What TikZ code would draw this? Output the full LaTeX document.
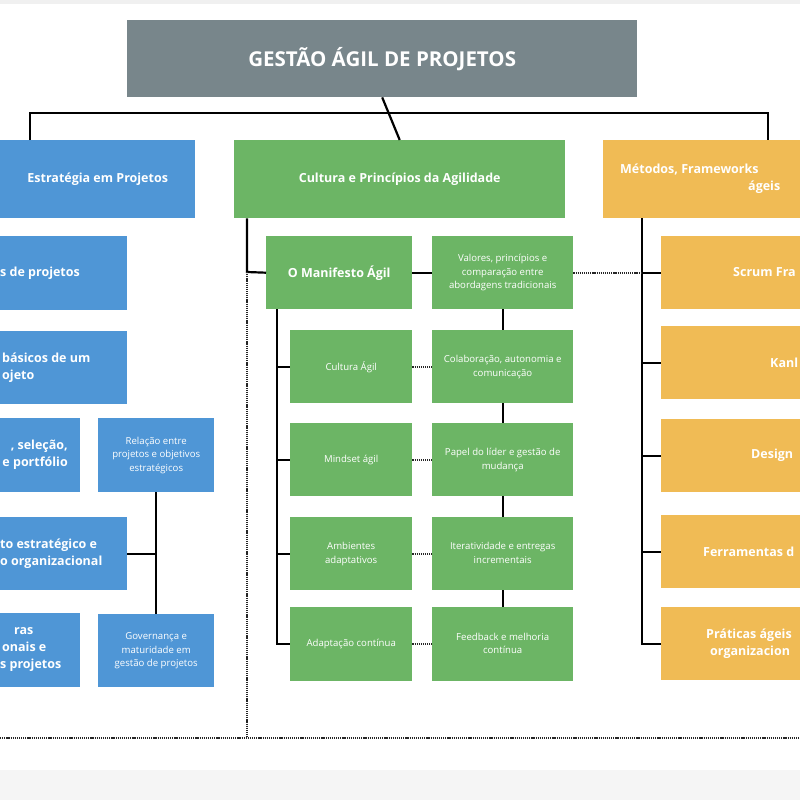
\documentclass[tikz,border=0pt]{standalone}
\usepackage{fontspec}
\setmainfont{Open Sans}
\newcommand{\smf}{\fontsize{9.6}{13.5}\selectfont}
\begin{document}
\definecolor{cgray}{HTML}{78868B}
\definecolor{cblue}{HTML}{4F96D6}
\definecolor{cgreen}{HTML}{6CB565}
\definecolor{corange}{HTML}{F0BB55}
\begin{tikzpicture}[x=1pt,y=-1pt,
  bx/.style={draw=none,anchor=north west,inner sep=0pt,text=white,font=\fontsize{12.5}{15}\selectfont\bfseries},
  ln/.style={line width=2.2pt,black},
  dt/.style={line width=1.6pt,black!85,dash pattern=on 1.2pt off 0.9pt}]
\useasboundingbox (0,0) rectangle (800,800);
\clip (0,0) rectangle (800,800);
\fill[black!6] (0,0) rectangle (800,4);
\fill[black!4] (0,770) rectangle (800,800);
\newcommand{\bx}[7]{\node[bx,fill=#6,minimum width=#4pt,minimum height=#5pt] (#1) at (#2,#3) {};
  \node[text=white,inner sep=0pt] at (#1.center) {#7};}
\newcommand{\lbx}[8]{\node[bx,fill=#6,minimum width=#4pt,minimum height=#5pt] (#1) at (#2,#3) {};
  \node[text=white,inner sep=0pt,anchor=west,align=left,font=\fontsize{12.5}{17}\selectfont\bfseries] at (#8,{#3+#5/2}) {#7};}
% title
\bx{T}{127}{20}{510}{77}{cgray}{\fontsize{20.5}{24}\selectfont\bfseries GESTÃO ÁGIL DE PROJETOS}
% headers
\bx{HB}{0}{140}{195}{78}{cblue}{\fontsize{12.5}{15}\selectfont\bfseries Estratégia em Projetos}
\bx{HG}{234}{140}{331}{78}{cgreen}{\fontsize{12.5}{15}\selectfont\bfseries Cultura e Princípios da Agilidade}
\lbx{HO}{603}{140}{260}{78}{corange}{Métodos, Frameworks\\\hspace*{128pt}ágeis}{620}
% top bus
\coordinate (bl) at (30,113); \coordinate (br) at (768,113);
\draw[ln] (T.south) -- (HG.north);
\draw[ln] (HB.north -| bl) -- (bl) -- (br) -- (HO.north -| br);
% blue column
\lbx{B1}{0}{236}{127}{74}{cblue}{s de projetos}{0}
\lbx{B2}{0}{331}{127}{73}{cblue}{básicos de um\\ojeto}{2}
\node[bx,fill=cblue,minimum width=80pt,minimum height=74pt] (B3) at (0,418) {};
\node[text=white,inner sep=0pt,align=right,anchor=east,font=\fontsize{12.5}{17}\selectfont\bfseries] at (68,455) {, seleção,\\e portfólio};
\lbx{B4}{0}{517}{127}{73}{cblue}{to estratégico e\\o organizacional}{0}
\node[bx,fill=cblue,minimum width=80pt,minimum height=74pt] (B5) at (0,613) {};
\node[text=white,inner sep=0pt,align=left,anchor=west,font=\fontsize{12.5}{17}\selectfont\bfseries] at (0,650) {\hspace*{14pt}ras\\\hspace*{2pt}onais e\\s projetos};
\bx{B6}{98}{418}{116}{74}{cblue}{\smf\begin{tabular}{@{}c@{}}Relação entre\\projetos e objetivos\\estratégicos\end{tabular}}
\bx{B7}{98}{614}{116}{73}{cblue}{\smf\begin{tabular}{@{}c@{}}Governança e\\maturidade em\\gestão de projetos\end{tabular}}
\draw[ln] (B6.south) -- (B7.north);
\draw[ln] (B4.east) -- (B4.east -| B6.south);
% green column
\bx{M}{266}{236}{146}{73}{cgreen}{\fontsize{12.5}{15}\selectfont\bfseries O Manifesto Ágil}
\bx{V}{432}{236}{141}{73}{cgreen}{\smf\begin{tabular}{@{}c@{}}Valores, princípios e\\comparação entre\\abordagens tradicionais\end{tabular}}
\bx{L1}{290}{330}{122}{73}{cgreen}{\smf Cultura Ágil}
\bx{L2}{290}{423}{122}{73}{cgreen}{\smf Mindset ágil}
\bx{L3}{290}{517}{122}{73}{cgreen}{\smf\begin{tabular}{@{}c@{}}Ambientes\\adaptativos\end{tabular}}
\bx{L4}{290}{607}{122}{74}{cgreen}{\smf Adaptação contínua}
\bx{R1}{432}{330}{141}{73}{cgreen}{\smf\begin{tabular}{@{}c@{}}Colaboração, autonomia e\\comunicação\end{tabular}}
\bx{R2}{432}{423}{141}{73}{cgreen}{\smf\begin{tabular}{@{}c@{}}Papel do líder e gestão de\\mudança\end{tabular}}
\bx{R3}{432}{517}{141}{73}{cgreen}{\smf\begin{tabular}{@{}c@{}}Iteratividade e entregas\\incrementais\end{tabular}}
\bx{R4}{432}{607}{141}{74}{cgreen}{\smf\begin{tabular}{@{}c@{}}Feedback e melhoria\\contínua\end{tabular}}
\coordinate (gx) at (247,272);
\coordinate (gb) at (247,738);
\draw[ln] (HG.south -| gx) -- (gx) -- (M.west);
\draw[dt] (gx) -- (gb);
\draw[dt] (0,738) -- (gb) -- (800,738);
\draw[ln] (M.east) -- (V.west);
\draw[ln] (V.south) -- (R1.north) (R1.south) -- (R2.north) (R2.south) -- (R3.north) (R3.south) -- (R4.north);
\coordinate (mx) at (277,309);
\draw[ln] (mx) -- (L4.west -| mx) -- (L4.west);
\foreach \n in {L1,L2,L3} \draw[ln] (\n.west -| mx) -- (\n.west);
\foreach \a/\b in {L1/R1,L2/R2,L3/R3,L4/R4} \draw[dt] (\a.east) -- (\b.west);
% orange column
\lbx{O1}{661}{236}{200}{73}{corange}{Scrum Fra}{733}
\lbx{O2}{661}{326}{200}{73}{corange}{Kanl}{770}
\lbx{O3}{661}{419}{200}{73}{corange}{Design}{751}
\lbx{O4}{661}{515}{200}{73}{corange}{Ferramentas d}{703}
\lbx{O5}{661}{607}{200}{73}{corange}{Práticas ágeis\\\hspace*{4pt}organizacion}{706}
\coordinate (ox) at (642,218);
\draw[ln] (ox) -- (O5.west -| ox) -- (O5.west);
\foreach \n in {O1,O2,O3,O4} \draw[ln] (\n.west -| ox) -- (\n.west);
\draw[dt] (V.east) -- (O1.west -| ox);
\end{tikzpicture}
\end{document}
